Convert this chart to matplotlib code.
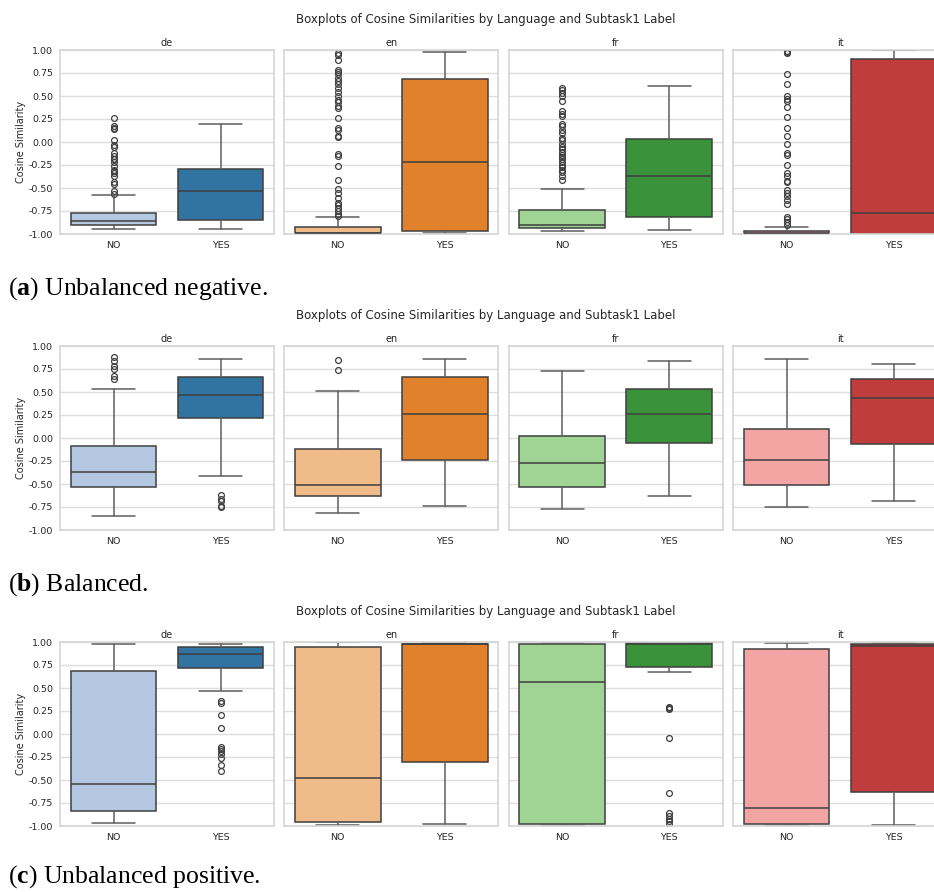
import numpy as np
import matplotlib
matplotlib.use("Agg")
import matplotlib.pyplot as plt
import seaborn as sns

sns.set_theme(style="whitegrid")
plt.rcParams["font.family"] = ["DejaVu Sans"]
plt.rcParams["mathtext.fontset"] = "custom"
plt.rcParams["mathtext.rm"] = "Liberation Serif"
plt.rcParams["mathtext.bf"] = "Liberation Serif:bold"

LANGS = ["de", "en", "fr", "it"]
LABELS = ["NO", "YES"]
PALETTE = [("#aec7e8", "#1f77b4"), ("#ffbb78", "#ff7f0e"),
           ("#98df8a", "#2ca02c"), ("#ff9896", "#d62728")]
YTICKS = [-1.0, -0.75, -0.5, -0.25, 0.0, 0.25, 0.5, 0.75, 1.0]
TITLE = "Boxplots of Cosine Similarities by Language and Subtask1 Label"

# box statistics, order: de NO, de YES, en NO, en YES, fr NO, fr YES, it NO, it YES
# (a) unbalanced negative
neg_q1 = [-0.90, -0.85, -0.99, -0.97, -0.94, -0.815, -0.996, -0.997]
neg_med = [-0.86, -0.535, -0.985, -0.22, -0.905, -0.372, -0.99, -0.77]
neg_q3 = [-0.77, -0.29, -0.92, 0.68, -0.74, 0.038, -0.967, 0.898]
neg_lo = [-0.946, -0.946, -0.995, -0.99, -0.97, -0.956, -1.0, -1.0]
neg_hi = [-0.58, 0.194, -0.815, 0.978, -0.51, 0.612, -0.927, 1.0]
neg_fliers = [
    [0.26, 0.17, 0.15, 0.14, 0.02, -0.03, -0.05, -0.12, -0.15, -0.18, -0.19, -0.22,
     -0.26, -0.30, -0.31, -0.34, -0.37, -0.43, -0.46, -0.535, -0.57],
    [],
    [0.97, 0.95, 0.89, 0.78, 0.76, 0.74, 0.70, 0.66, 0.63, 0.59, 0.54, 0.50, 0.46,
     0.43, 0.39, 0.37, 0.26, 0.15, 0.13, 0.06, 0.05, -0.13, -0.15, -0.26, -0.41,
     -0.51, -0.55, -0.61, -0.66, -0.69, -0.72, -0.75, -0.78, -0.80],
    [],
    [0.59, 0.56, 0.535, 0.50, 0.445, 0.34, 0.30, 0.28, 0.20, 0.17, 0.13, 0.10, 0.045,
     0.027, -0.027, -0.053, -0.08, -0.11, -0.136, -0.16, -0.19, -0.22, -0.245, -0.27,
     -0.30, -0.33, -0.365, -0.41],
    [],
    [0.99, 0.98, 0.965, 0.74, 0.63, 0.50, 0.47, 0.445, 0.38, 0.27, 0.15, 0.064, -0.024,
     -0.12, -0.14, -0.25, -0.34, -0.37, -0.42, -0.44, -0.52, -0.55, -0.59, -0.63,
     -0.67, -0.81, -0.84, -0.87, -0.90],
    [],
]

# (b) balanced
bal_q1 = [-0.536, 0.214, -0.634, -0.239, -0.536, -0.051, -0.507, -0.062]
bal_med = [-0.373, 0.467, -0.514, 0.261, -0.272, 0.257, -0.243, 0.431]
bal_q3 = [-0.087, 0.667, -0.116, 0.659, 0.018, 0.533, 0.101, 0.641]
bal_lo = [-0.851, -0.413, -0.812, -0.743, -0.775, -0.630, -0.754, -0.688]
bal_hi = [0.536, 0.855, 0.507, 0.855, 0.728, 0.833, 0.855, 0.801]
bal_fliers = [
    [0.88, 0.84, 0.78, 0.75, 0.67, 0.64],
    [-0.62, -0.66, -0.69, -0.74, -0.75],
    [0.85, 0.74],
    [], [], [], [], [],
]

# (c) unbalanced positive
pos_q1 = [-0.837, 0.721, -0.960, -0.308, -0.978, 0.725, -0.982, -0.630]
pos_med = [-0.540, 0.873, -0.482, 0.982, 0.569, 0.980, -0.801, 0.960]
pos_q3 = [0.681, 0.949, 0.942, 0.975, 0.975, 0.985, 0.920, 0.978]
pos_lo = [-0.967, 0.471, -0.986, -0.978, -0.989, 0.674, -0.989, -0.989]
pos_hi = [0.975, 0.982, 0.996, 0.993, 0.993, 0.993, 0.993, 0.993]
pos_fliers = [
    [],
    [0.36, 0.34, 0.21, 0.06, -0.14, -0.16, -0.19, -0.22, -0.26, -0.34, -0.40],
    [], [],
    [],
    [0.29, 0.28, 0.27, -0.04, -0.64, -0.86, -0.89, -0.92, -0.95, -0.98],
    [], [],
]

ROWS = [
    (neg_q1, neg_med, neg_q3, neg_lo, neg_hi, neg_fliers, "a", "Unbalanced negative."),
    (bal_q1, bal_med, bal_q3, bal_lo, bal_hi, bal_fliers, "b", "Balanced."),
    (pos_q1, pos_med, pos_q3, pos_lo, pos_hi, pos_fliers, "c", "Unbalanced positive."),
]

W, H = 934, 892
fig = plt.figure(figsize=(W / 100, H / 100), dpi=100)

LINE = "#3f3f3f"
WHISK = "#5e5e5e"
TXT = "#262626"
row_tops = [50, 346, 642]
panel_h = 184
panel_w = 214
lefts = [60, 284.3, 508.6, 733]
caption_y = [289, 585, 877]

for r, (q1, med, q3, lo, hi, fl, tag, caption) in enumerate(ROWS):
    top = row_tops[r]
    for i, lang in enumerate(LANGS):
        ax = fig.add_axes([lefts[i] / W, 1 - (top + panel_h) / H, panel_w / W, panel_h / H])
        stats = []
        for j, lab in enumerate(LABELS):
            k = 2 * i + j
            stats.append(dict(med=med[k], q1=q1[k], q3=q3[k], whislo=lo[k],
                              whishi=hi[k], fliers=np.array(fl[k]), label=lab))
        bp = ax.bxp(stats, positions=[0, 1], widths=0.8, capwidths=0.4,
                    patch_artist=True, showfliers=True,
                    boxprops=dict(edgecolor=LINE, linewidth=1.1),
                    medianprops=dict(color=LINE, linewidth=1.1),
                    whiskerprops=dict(color=WHISK, linewidth=1.1),
                    capprops=dict(color=WHISK, linewidth=1.1),
                    flierprops=dict(marker="o", markersize=4.2, markerfacecolor="none",
                                    markeredgecolor=LINE, markeredgewidth=0.9))
        for j, patch in enumerate(bp["boxes"]):
            patch.set_facecolor(sns.desaturate(PALETTE[i][j], 0.75))
        for ln in bp["medians"]:
            ln.set_zorder(3)
        ax.set_xlim(-0.5, 1.5)
        ax.set_ylim(-1.0, 1.0)
        ax.set_yticks(YTICKS)
        ax.set_xticks([0, 1])
        ax.set_xticklabels(LABELS)
        ax.tick_params(axis="both", labelsize=6.8, colors=TXT, length=0, pad=5)
        ax.grid(axis="y", color="#dedede", linewidth=1.0)
        ax.grid(axis="x", visible=False)
        for sp in ax.spines.values():
            sp.set_color("#d6d6d6")
            sp.set_linewidth(1.2)
        ax.set_title(lang, fontsize=7, color=TXT, pad=3)
        if i == 0:
            ax.set_ylabel("Cosine Similarity", fontsize=7, color=TXT, labelpad=2)
            ax.set_yticklabels(["%.2f" % v for v in YTICKS])
        else:
            ax.set_yticklabels([])
    fig.text(486 / W, 1 - (top - 30) / H, TITLE, ha="center", va="center",
             fontsize=8.5, color=TXT)
    fig.text(8 / W, 1 - caption_y[r] / H, r"($\mathbf{%s}$) %s" % (tag, caption),
             ha="left", va="center", fontsize=18.5, family="Liberation Serif", color="black")

fig.savefig("out.png", dpi=100)
